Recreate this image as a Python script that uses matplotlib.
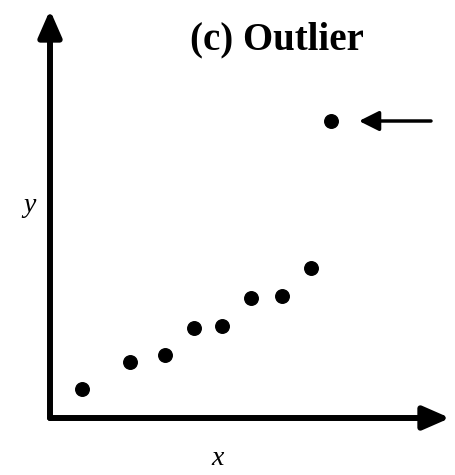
import matplotlib.pyplot as plt

# data (arbitrary units)
x_vals = [3.2, 8.0, 11.5, 14.4, 17.2, 20.1, 23.2, 26.1, 28.1]
y_vals = [2.9, 5.6, 6.3, 9.0, 9.2, 12.0, 12.2, 15.0, 29.7]
outlier_idx = 8
title = '(c) Outlier'

fig = plt.figure(figsize=(4.56, 4.75), dpi=100)
ax = fig.add_axes([50 / 456, 57 / 475, 400 / 456, 408 / 475])
ax.set_xlim(0, 40)
ax.set_ylim(0, 40.8)
for s in ax.spines.values():
    s.set_visible(False)
ax.set_xticks([])
ax.set_yticks([])

# axes with arrowheads
arrow_kw = dict(arrowstyle='-|>,head_length=1.6,head_width=0.7', color='black',
                lw=4.3, shrinkA=0, shrinkB=0)
ax.annotate('', xy=(1, 0), xytext=(0, 0), xycoords='axes fraction',
            arrowprops=arrow_kw, annotation_clip=False)
ax.annotate('', xy=(0, 1), xytext=(0, 0), xycoords='axes fraction',
            arrowprops=arrow_kw, annotation_clip=False)

ax.scatter(x_vals, y_vals, s=95, color='black', zorder=3, clip_on=False)

# pointer to the outlier
ox, oy = x_vals[outlier_idx], y_vals[outlier_idx]
ax.annotate('', xy=(ox + 2.8, oy), xytext=(ox + 10, oy),
            arrowprops=dict(arrowstyle='-|>,head_length=1.2,head_width=0.6',
                            color='black', lw=2.5, shrinkA=0, shrinkB=0))

ax.text(0.568, 0.926, title, transform=ax.transAxes, ha='center', va='center',
        fontsize=28, fontweight='bold', family='Liberation Serif')
ax.text(-0.05, 0.52, 'y', transform=ax.transAxes, ha='center', va='center',
        fontsize=20, style='italic', family='Liberation Serif')
ax.text(0.42, -0.1, 'x', transform=ax.transAxes, ha='center', va='center',
        fontsize=20, style='italic', family='Liberation Serif')

fig.savefig('out.png', dpi=100)
